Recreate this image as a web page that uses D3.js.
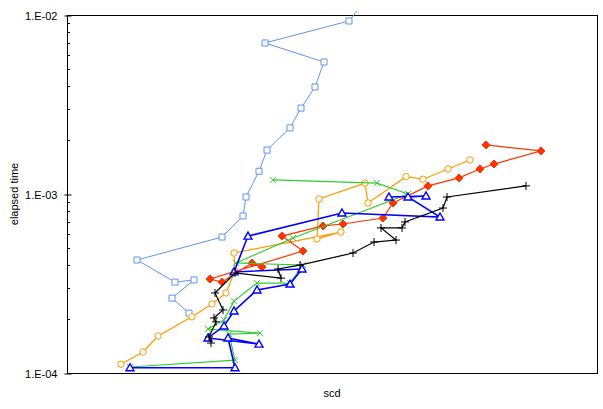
<!DOCTYPE html>
<html>
<head>
<meta charset="utf-8">
<script src="https://cdnjs.cloudflare.com/ajax/libs/d3/7.8.5/d3.min.js"></script>
<style>
    body { margin: 0; background: #fff; }
    svg { display: block; font-family: "Liberation Sans", Arial, sans-serif; }
</style>
</head>
<body>
<div id="container"></div>
<script>
// scd values are in arbitrary units (the reference shows no x tick labels)
const squareScd  = [122, 105, 127, 108, 70, 155, 176, 179, 192, 200, 223, 234, 248, 257, 198, 282, 295];
const squareTime = [2.16e-4, 2.62e-4, 3.31e-4, 3.22e-4, 4.28e-4, 5.75e-4, 7.54e-4, 9.62e-4, 1.34e-3, 1.76e-3, 2.34e-3, 3.02e-3, 3.96e-3, 5.46e-3, 6.98e-3, 9.26e-3, 1.14e-2];

const circleScd  = [54, 76, 91, 125, 145, 159, 168, 167, 274, 250, 252, 298, 301, 339, 356, 381, 403];
const circleTime = [1.12e-4, 1.31e-4, 1.61e-4, 2.06e-4, 2.43e-4, 2.80e-4, 3.71e-4, 4.68e-4, 6.13e-4, 5.61e-4, 9.38e-4, 1.15e-3, 8.91e-4, 1.25e-3, 1.21e-3, 1.38e-3, 1.55e-3];

const diamondScd  = [195, 185, 155, 143, 236, 215, 256, 276, 316, 326, 361, 392, 413, 427, 474, 419];
const diamondTime = [3.91e-4, 4.12e-4, 3.22e-4, 3.35e-4, 4.80e-4, 5.82e-4, 6.63e-4, 6.80e-4, 7.34e-4, 8.91e-4, 1.11e-3, 1.23e-3, 1.38e-3, 1.47e-3, 1.74e-3, 1.88e-3];

const xScd  = [63, 168, 162, 193, 141, 157, 167, 190, 223, 236, 169, 226, 341, 310, 206];
const xTime = [1.08e-4, 1.18e-4, 1.65e-4, 1.67e-4, 1.76e-4, 1.98e-4, 2.52e-4, 3.18e-4, 3.18e-4, 4.01e-4, 4.12e-4, 5.68e-4, 1.00e-3, 1.15e-3, 1.20e-3];

const triangleScd  = [63, 168, 161, 192, 141, 157, 167, 190, 223, 235, 167, 181, 275, 373, 341, 359, 322];
const triangleTime = [1.07e-4, 1.07e-4, 1.57e-4, 1.45e-4, 1.57e-4, 1.83e-4, 2.22e-4, 2.91e-4, 3.14e-4, 3.81e-4, 3.67e-4, 5.82e-4, 7.83e-4, 7.44e-4, 9.62e-4, 9.75e-4, 9.62e-4];

const plusScd  = [144, 142, 149, 147, 156, 148, 168, 214, 211, 233, 286, 307, 329, 314, 335, 338, 376, 380, 459];
const plusTime = [1.47e-4, 1.59e-4, 1.93e-4, 2.03e-4, 2.25e-4, 2.80e-4, 3.62e-4, 3.39e-4, 3.81e-4, 4.01e-4, 4.68e-4, 5.39e-4, 5.53e-4, 6.46e-4, 6.46e-4, 6.98e-4, 8.35e-4, 9.62e-4, 1.11e-3];

const majorTicks = [1e-4, 1e-3, 1e-2];

document.addEventListener("DOMContentLoaded", () => {
    makeChart();
});

function makeChart() {
    const w = 603;
    const h = 409;
    const left = 67, right = 597, top = 15, bottom = 373;

    const xScale = d3.scaleLinear()
          .domain([0, 530])
          .range([left, right]);

    const yScale = d3.scaleLog()
          .domain([1e-4, 1e-2])
          .range([bottom, top]);

    const zip = (a, b) => a.map((v, i) => ({scd: v, time: b[i]}));

    const series = [
        {pts: zip(squareScd, squareTime), color: "#5f93f5", width: 1, mark: "square"},
        {pts: zip(circleScd, circleTime), color: "#ff9900", width: 1.2, mark: "circle"},
        {pts: zip(diamondScd, diamondTime), color: "#ff3300", width: 1.2, mark: "diamond"},
        {pts: zip(xScd, xTime), color: "#33cc33", width: 1.2, mark: "x"},
        {pts: zip(triangleScd, triangleTime), color: "#0000ff", width: 1.6, mark: "triangle"},
        {pts: zip(plusScd, plusTime), color: "#000000", width: 1.2, mark: "plus"}
    ];

    const markPath = {
        square: "M-3,-3H3V3H-3Z",
        diamond: "M0,-4L4,0L0,4L-4,0Z",
        triangle: "M0,-4L4,3H-4Z",
        x: "M-3,-3L3,3M-3,3L3,-3",
        plus: "M-4,0H4M0,-4V4"
    };

    let svg = d3.select("#container")
        .append("svg")
        .attr("width", w)
        .attr("height", h);

    svg.append("defs").append("clipPath")
        .attr("id", "plotclip")
        .append("rect")
        .attr("x", left)
        .attr("y", 11)
        .attr("width", right - left)
        .attr("height", bottom - 11);

    // frame
    svg.append("rect")
        .attr("x", left + 0.5)
        .attr("y", top + 0.5)
        .attr("width", right - left)
        .attr("height", bottom - top)
        .attr("fill", "none")
        .attr("stroke", "#000")
        .attr("stroke-width", 1);

    // minor ticks on the log axis
    const minor = yScale.ticks().filter((t) => majorTicks.indexOf(t) < 0);
    svg.append("g")
        .selectAll("line")
        .data(minor)
        .enter()
        .append("line")
        .attr("x1", left)
        .attr("x2", left + 3)
        .attr("y1", (d) => Math.round(yScale(d)) + 0.5)
        .attr("y2", (d) => Math.round(yScale(d)) + 0.5)
        .attr("stroke", "#000");

    const yAxis = d3.axisLeft(yScale)
          .tickValues(majorTicks)
          .tickSize(3)
          .tickPadding(7)
          .tickFormat((d) => "1.E-" + String(-Math.round(Math.log10(d))).padStart(2, "0"));

    let ya = svg.append("g")
        .attr("transform", "translate(" + (left + 0.5) + ",0.5)")
        .call(yAxis);
    ya.select(".domain").remove();
    ya.selectAll(".tick line").attr("x2", -3).attr("x1", 4);
    ya.selectAll("text")
        .attr("font-size", "11px")
        .attr("font-family", "Liberation Sans, Arial, sans-serif")
        .attr("fill", "#000");

    let plot = svg.append("g").attr("clip-path", "url(#plotclip)");

    const line = d3.line()
          .x((d) => xScale(d.scd))
          .y((d) => yScale(d.time));

    series.forEach((s) => {
        plot.append("path")
            .datum(s.pts)
            .attr("d", line)
            .attr("fill", "none")
            .attr("stroke", s.color)
            .attr("stroke-width", s.width);

        let marks = plot.append("g")
            .selectAll(".m")
            .data(s.pts)
            .enter();

        if (s.mark == "circle") {
            marks.append("circle")
                .attr("cx", (d) => xScale(d.scd))
                .attr("cy", (d) => yScale(d.time))
                .attr("r", 3.2)
                .attr("fill", "#fff")
                .attr("stroke", s.color)
                .attr("stroke-width", 1);
        } else {
            const filled = s.mark == "diamond";
            const open = s.mark == "square" || s.mark == "triangle";
            marks.append("path")
                .attr("d", markPath[s.mark])
                .attr("transform", (d) => "translate(" + xScale(d.scd) + "," + yScale(d.time) + ")")
                .attr("fill", filled ? s.color : (open ? "#fff" : "none"))
                .attr("stroke", s.color)
                .attr("stroke-width", s.mark == "triangle" ? 1.4 : 1);
        }
    });

    svg.append("text")
        .text("scd")
        .attr("x", (left + right) / 2)
        .attr("y", 397)
        .attr("text-anchor", "middle")
        .attr("font-size", "11px");

    svg.append("text")
        .text("elapsed time")
        .attr("x", 0)
        .attr("y", 0)
        .attr("text-anchor", "middle")
        .attr("font-size", "11px")
        .attr("transform", "translate(18," + (top + bottom) / 2 + ") rotate(-90)");
}
</script>
</body>
</html>
